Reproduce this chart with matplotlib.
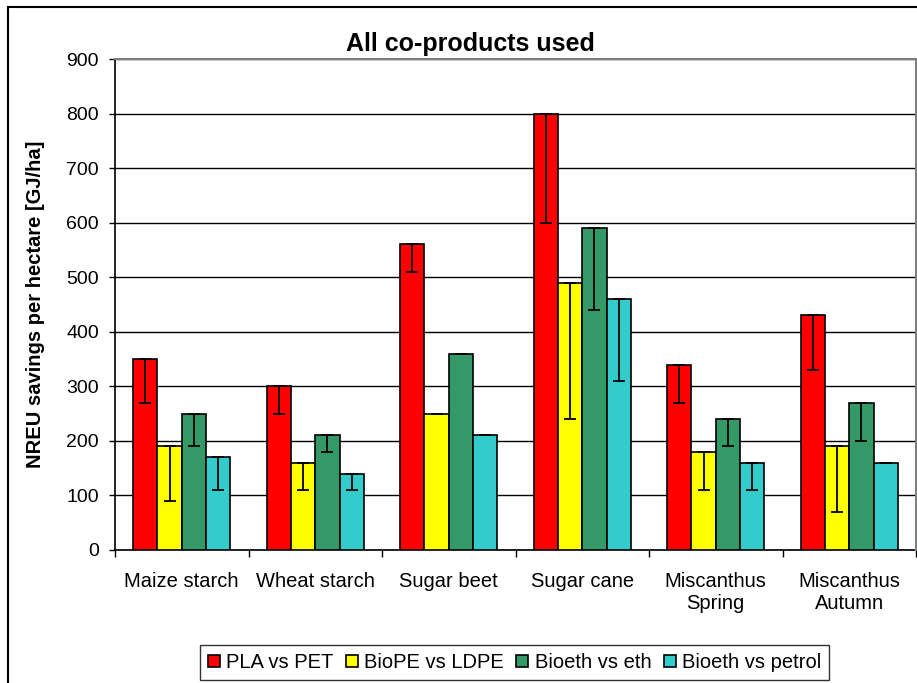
import matplotlib
matplotlib.use("Agg")
import matplotlib.pyplot as plt
from matplotlib.patches import Rectangle
import numpy as np

plt.rcParams['font.family'] = ['Liberation Sans', 'DejaVu Sans']

categories = ["Maize starch", "Wheat starch", "Sugar beet", "Sugar cane",
              "Miscanthus\nSpring", "Miscanthus\nAutumn"]
series_names = ["PLA vs PET", "BioPE vs LDPE", "Bioeth vs eth", "Bioeth vs petrol"]
pla_vals = [350, 300, 560, 800, 340, 430]
pla_low = [270, 250, 510, 600, 270, 330]
biope_vals = [190, 160, 250, 490, 180, 190]
biope_low = [90, 110, 250, 240, 110, 70]
bioeth_eth_vals = [250, 210, 360, 590, 240, 270]
bioeth_eth_low = [190, 180, 360, 440, 190, 200]
bioeth_pet_vals = [170, 140, 210, 460, 160, 160]
bioeth_pet_low = [110, 110, 210, 310, 110, 160]
yticks = [0, 100, 200, 300, 400, 500, 600, 700, 800, 900]

colors = ["#FF0000", "#FFFF00", "#339966", "#33CCCC"]
values = [pla_vals, biope_vals, bioeth_eth_vals, bioeth_pet_vals]
lows = [pla_low, biope_low, bioeth_eth_low, bioeth_pet_low]

W, H = 917, 683
fig = plt.figure(figsize=(W / 100, H / 100), dpi=100)
ax = fig.add_axes([115 / W, 1 - 550 / H, (916 - 115) / W, (550 - 59) / H])

x = np.arange(len(categories))
w = 0.182
for j, (vals, low, col, name) in enumerate(zip(values, lows, colors, series_names)):
    pos = x + (j - 1.5) * w
    vals = np.array(vals)
    low = np.array(low)
    ax.bar(pos, vals, width=w, color=col, edgecolor="black", linewidth=1.2,
           label=name, zorder=3)
    ax.errorbar(pos, vals, yerr=[vals - low, np.zeros_like(vals)], fmt="none",
                ecolor="black", elinewidth=1.3, capsize=4.5, capthick=1.3, zorder=4)

ax.set_xlim(-0.5, len(categories) - 0.5)
ax.set_ylim(0, 900)
ax.set_yticks(yticks)
ax.yaxis.grid(True, color="black", linewidth=1.0, zorder=0)
ax.set_axisbelow(True)

ax.set_xticks(np.arange(len(categories) + 1) - 0.5)
ax.set_xticklabels([])
ax.set_xticks(x, minor=True)
ax.set_xticklabels(categories, minor=True, fontsize=14.5)
ax.tick_params(axis="x", which="major", direction="out", length=5, width=1, color="black")
ax.tick_params(axis="x", which="minor", length=0, pad=16)
ax.tick_params(axis="y", direction="out", length=4.5, width=1, pad=7, labelsize=14)

for s in ["left", "bottom"]:
    ax.spines[s].set_color("black")
    ax.spines[s].set_linewidth(1.2)
for s in ["top", "right"]:
    ax.spines[s].set_color("#808080")
    ax.spines[s].set_linewidth(1.5)
    ax.spines[s].set_zorder(5)

ax.set_ylabel("NREU savings per hectare [GJ/ha]", fontsize=14.5, fontweight="bold")
ax.yaxis.set_label_coords((45 - 115) / (916 - 115), 0.5)

fig.text(470 / W, 1 - 44 / H, "All co-products used", fontsize=18,
         fontweight="bold", ha="center", va="center")

# outer chart border
fig.patches.append(Rectangle((8 / W, -0.2), 1.0, 1.2 - 7 / H, transform=fig.transFigure,
                             fill=False, edgecolor="black", linewidth=1.5))

leg = fig.legend(loc="upper left", bbox_to_anchor=(200 / W, 1 - 645 / H), ncol=4,
                 fontsize=14.5, frameon=True, fancybox=False, edgecolor="black",
                 handlelength=0.6, handleheight=0.6, handletextpad=0.3,
                 columnspacing=0.62, borderpad=0.4, borderaxespad=0)
leg.get_frame().set_linewidth(1.0)

fig.savefig("out.png", dpi=100)
